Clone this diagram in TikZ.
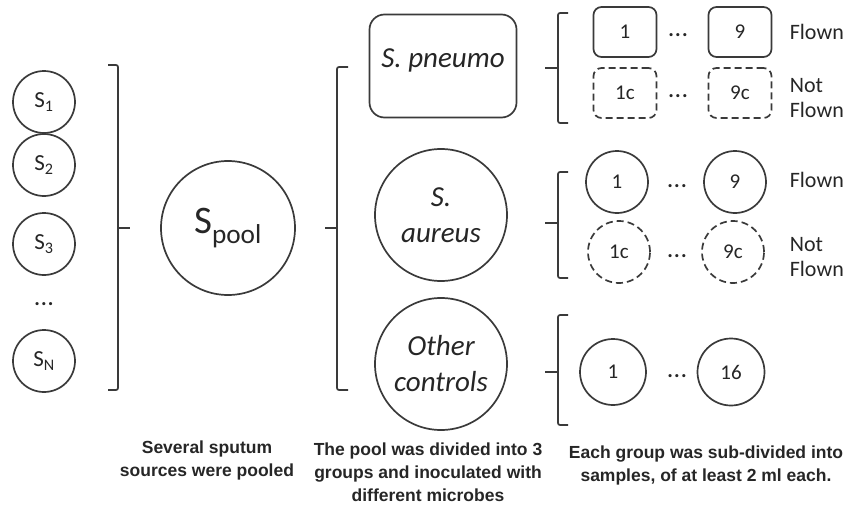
\documentclass[tikz,border=0pt]{standalone}
\usepackage{fontspec}
\setmainfont{Carlito}
\newfontfamily\capfont{Liberation Sans}
\definecolor{lc}{HTML}{3A3A3A}
\definecolor{tc}{HTML}{262626}
\newcommand\mydts{\textbf{.\kern1.2pt.\kern1.2pt.}}
\begin{document}
\begin{tikzpicture}[x=1pt,y=-1pt,line width=1.7pt,draw=lc,text=tc,
  src/.style={circle,draw=lc,minimum size=62pt,inner sep=0pt,font=\fontsize{23}{26}\selectfont},
  bigc/.style={circle,draw=lc,minimum size=134pt,inner sep=0pt},
  grp/.style={circle,draw=lc,minimum size=132pt,inner sep=0pt,align=center,font=\itshape\fontsize{29}{36}\selectfont},
  bx/.style={rectangle,rounded corners=8pt,draw=lc,minimum width=63pt,minimum height=50pt,inner sep=0pt,font=\fontsize{21}{24}\selectfont},
  dbx/.style={bx,dash pattern=on 7pt off 4pt},
  sm/.style={circle,draw=lc,minimum size=62pt,inner sep=0pt,font=\fontsize{21}{24}\selectfont},
  dsm/.style={sm,dash pattern=on 7pt off 4pt},
  dots/.style={font=\fontsize{21}{22}\selectfont,inner sep=0pt,anchor=base},
  lbl/.style={font=\fontsize{22}{25}\selectfont,align=left,anchor=west,inner sep=0pt},
  captxt/.style={font=\capfont\bfseries\fontsize{17.5}{23}\selectfont,align=center,inner sep=0pt},
  brk/.style={rounded corners=2pt}]
\useasboundingbox (0,0) rectangle (846,506);
% sources
\node[src] (s1) at (44,102) {S\textsubscript{1}};
\node[src] (s2) at (44,165) {S\textsubscript{2}};
\node[src] (s3) at (44,244) {S\textsubscript{3}};
\node[dots] (sd) at (44,305) {\mydts};
\node[src] (sn) at (44,361) {S\textsubscript{N}};
\draw[brk] (108,65) -- (118,65) -- (118,390) -- (108,390);
\draw (118,228) -- (130,228);
% pool
\node[bigc,font=\fontsize{39}{40}\selectfont] (pool) at (228,228) {S\textsubscript{pool}};
\draw[brk] (348,67) -- (337,67) -- (337,390) -- (348,390);
\draw (337,228) -- (325,228);
% groups
\node[rectangle,rounded corners=15pt,draw=lc,minimum width=147pt,minimum height=103pt,inner sep=0pt] (pn) at (443,66) {};
\node[font=\itshape\fontsize{29}{36}\selectfont,inner sep=0pt] (pnt) at (443,60) {S. pneumo};
\node[grp] (au) at (441,215) {S.\\aureus};
\node[grp] (oc) at (441,364) {Other\\controls};
% pneumo samples
\draw[brk] (568,13) -- (558,13) -- (558,123) -- (568,123);
\draw (558,68) -- (545,68);
\node[bx] (p1) at (625,32) {1};
\node[dots] (pd1) at (678,36) {\mydts};
\node[bx] (p9) at (740,32) {9};
\node[dbx] (p1c) at (625,93) {1c};
\node[dots] (pd2) at (678,97) {\mydts};
\node[dbx] (p9c) at (740,93) {9c};
\node[lbl] (pf) at (789,32) {Flown};
\node[lbl] (pnf) at (789,98) {Not\\Flown};
% aureus samples
\draw[brk] (568,172) -- (558,172) -- (558,278) -- (568,278);
\draw (558,223) -- (545,223);
\node[sm] (a1) at (617,182) {1};
\node[dots] (ad1) at (677,187) {\mydts};
\node[sm] (a9) at (735,182) {9};
\node[dsm] (a1c) at (619,252) {1c};
\node[dots] (ad2) at (677,257) {\mydts};
\node[dsm] (a9c) at (733,252) {9c};
\node[lbl] (af) at (789,180) {Flown};
\node[lbl] (anf) at (789,257) {Not\\Flown};
% other samples
\draw[brk] (568,315) -- (558,315) -- (558,425) -- (568,425);
\draw (558,372) -- (545,372);
\node[sm,minimum size=66pt] (o1) at (613,372) {1};
\node[dots] (od) at (677,377) {\mydts};
\node[sm,minimum size=67pt] (o16) at (731,372) {16};
% captions
\node[captxt] (c1) at (207,460) {Several sputum\\sources were pooled};
\node[captxt] (c2) at (428,472) {The pool was divided into 3\\groups and inoculated with\\different microbes};
\node[captxt] (c3) at (706,465) {Each group was sub-divided into\\samples, of at least 2 ml each.};
\end{tikzpicture}
\end{document}
